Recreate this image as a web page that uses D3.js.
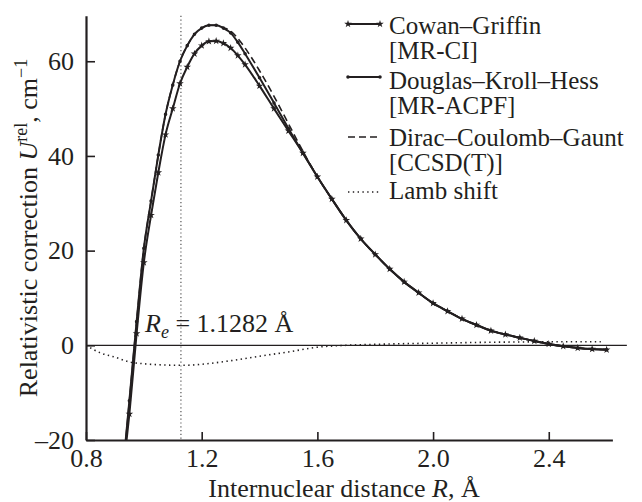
<!DOCTYPE html>
<html>
<head>
<meta charset="utf-8">
<script src="https://cdn.jsdelivr.net/npm/d3@7"></script>
<style>
  body { margin: 0; background: #fff; }
  svg text { font-family: "Liberation Serif", "Times New Roman", serif; }
  .axis text { font-size: 26px; fill: #231f20; font-family: "Liberation Serif", "Times New Roman", serif; }
  .axis line, .axis path { stroke: #231f20; }
</style>
</head>
<body>
<div id="chart"></div>
<script>
// internuclear distance grid, angstrom
const rGrid = [0.935, 0.95, 0.975, 1.0, 1.025, 1.05, 1.075, 1.1, 1.125, 1.15, 1.175, 1.2, 1.225,
    1.25, 1.275, 1.3, 1.325, 1.35, 1.4, 1.45, 1.5, 1.55, 1.6, 1.65, 1.7, 1.75, 1.8, 1.85, 1.9,
    1.95, 2.0, 2.05, 2.1, 2.15, 2.2, 2.25, 2.3, 2.35, 2.4, 2.45, 2.5, 2.55, 2.6];

const cowanGriffin = [-23, -14.5, 2.5, 17.5, 27.5, 36.5, 44.5, 50.0, 55.3, 58.8, 61.6, 63.3, 64.2,
    64.3, 63.8, 62.8, 61.2, 59.3, 54.8, 50.0, 45.3, 40.6, 35.6, 30.9, 26.4, 22.5, 19.2, 16.1, 13.4,
    11.1, 8.9, 7.2, 5.6, 4.3, 3.1, 2.3, 1.6, 0.9, 0.3, -0.2, -0.55, -0.8, -0.95];

const douglasKrollHess = [-21.5, -11.7, 5.0, 20.5, 30.5, 40.2, 48.8, 55.0, 60.0, 63.3, 65.7, 67.0, 67.6,
    67.6, 67.0, 66.0, 64.0, 61.6, 56.5, 51.2, 45.8, 40.6, 35.6, 30.9, 26.4, 22.5, 19.2, 16.1, 13.4,
    11.1, 8.9, 7.2, 5.6, 4.3, 3.1, 2.3, 1.6, 0.9, 0.3, -0.2, -0.55, -0.8, -0.95];

const diracCoulombGaunt = [-21.5, -11.7, 5.0, 20.5, 30.5, 40.2, 48.8, 55.0, 60.0, 63.3, 65.7, 67.0, 67.6,
    67.6, 67.1, 66.4, 64.8, 62.8, 58.0, 52.6, 46.8, 41.0, 35.6, 30.9, 26.4, 22.5, 19.2, 16.1, 13.4,
    11.1, 8.9, 7.2, 5.6, 4.3, 3.1, 2.3, 1.6, 0.9, 0.3, -0.2, -0.55, -0.8, -0.95];

const lambR = [0.8, 0.85, 0.9, 0.95, 1.0, 1.05, 1.1, 1.15, 1.2, 1.3, 1.4, 1.5, 1.6, 1.7, 1.8, 1.9,
    2.0, 2.1, 2.2, 2.3, 2.4, 2.5, 2.58];
const lambShift = [0, -1.6, -2.5, -3.5, -3.9, -4.1, -4.2, -4.2, -4.0, -3.25, -2.3, -1.4, -0.4, 0.0,
    0.2, 0.35, 0.45, 0.55, 0.65, 0.7, 0.75, 0.75, 0.75];

const xTicks = [0.8, 1.2, 1.6, 2.0, 2.4];
const yTicks = [-20, 0, 20, 40, 60];
const rEquilibrium = 1.1282;

const legendItems = [
    {name: 'Cowan–Griffin', method: '[MR-CI]', style: 'cg'},
    {name: 'Douglas–Kroll–Hess', method: '[MR-ACPF]', style: 'dkh'},
    {name: 'Dirac–Coulomb–Gaunt', method: '[CCSD(T)]', style: 'dcg'},
    {name: 'Lamb shift', method: null, style: 'lamb'}
];

const ink = '#231f20';
const serif = '"Liberation Serif", "Times New Roman", serif';

let svg = d3.select('#chart').append('svg')
    .attr('width', 642)
    .attr('height', 502)
    .attr('font-family', serif);

let x = d3.scaleLinear().domain([0.8, 2.62]).range([86, 612.4]);
let y = d3.scaleLinear().domain([-20, 69.6]).range([440, 15.8]);

svg.append('clipPath').attr('id', 'plot-clip')
    .append('rect')
    .attr('x', x(0.8)).attr('y', y(69.6))
    .attr('width', x(2.62) - x(0.8)).attr('height', y(-20) - y(69.6));

// zero line
svg.append('line')
    .attr('x1', x(0.8)).attr('x2', x(2.67))
    .attr('y1', y(0)).attr('y2', y(0))
    .attr('stroke', ink).attr('stroke-width', 1.2);

// equilibrium distance marker
svg.append('line')
    .attr('x1', x(rEquilibrium)).attr('x2', x(rEquilibrium))
    .attr('y1', y(69.6)).attr('y2', y(-20))
    .attr('stroke', '#555').attr('stroke-width', 1.2)
    .attr('stroke-dasharray', '1.2,2.6');

let plot = svg.append('g').attr('clip-path', 'url(#plot-clip)');

let line = d3.line()
    .x(function(d) { return x(d[0]); })
    .y(function(d) { return y(d[1]); })
    .curve(d3.curveMonotoneX);

let cgData = rGrid.map(function(r, i) { return [r, cowanGriffin[i]]; });
let dkhData = rGrid.map(function(r, i) { return [r, douglasKrollHess[i]]; });
let dcgData = rGrid.map(function(r, i) { return [r, diracCoulombGaunt[i]]; });
let lambData = lambR.map(function(r, i) { return [r, lambShift[i]]; });

const styles = {
    cg: {width: 2, dash: null},
    dkh: {width: 2, dash: null},
    dcg: {width: 1.6, dash: '7,4'},
    lamb: {width: 1.6, dash: '1.4,3.4'}
};

plot.append('path').datum(lambData)
    .attr('fill', 'none').attr('stroke', ink)
    .attr('stroke-width', styles.lamb.width)
    .attr('stroke-dasharray', styles.lamb.dash)
    .attr('d', line);

plot.append('path').datum(dcgData)
    .attr('fill', 'none').attr('stroke', ink)
    .attr('stroke-width', styles.dcg.width)
    .attr('stroke-dasharray', styles.dcg.dash)
    .attr('d', line);

plot.append('path').datum(dkhData)
    .attr('fill', 'none').attr('stroke', ink)
    .attr('stroke-width', styles.dkh.width)
    .attr('d', line);

plot.append('path').datum(cgData)
    .attr('fill', 'none').attr('stroke', ink)
    .attr('stroke-width', styles.cg.width)
    .attr('d', line);

let star = d3.symbol().type(d3.symbolStar).size(18);
let dot = d3.symbol().type(d3.symbolCircle).size(10);

plot.selectAll('.dkh-mark').data(dkhData).enter().append('path')
    .attr('class', 'dkh-mark')
    .attr('transform', function(d) { return 'translate(' + x(d[0]) + ',' + y(d[1]) + ')'; })
    .attr('d', dot).attr('fill', ink);

plot.selectAll('.cg-mark').data(cgData).enter().append('path')
    .attr('class', 'cg-mark')
    .attr('transform', function(d) { return 'translate(' + x(d[0]) + ',' + y(d[1]) + ')'; })
    .attr('d', star).attr('fill', ink);

// axes
let yAxis = d3.axisLeft(y)
    .tickValues(yTicks)
    .tickSizeInner(-9).tickSizeOuter(0).tickPadding(12)
    .tickFormat(function(d) { return d < 0 ? '–' + Math.abs(d) : d; });

let xAxis = d3.axisBottom(x)
    .tickValues(xTicks)
    .tickSizeInner(-8).tickSizeOuter(0).tickPadding(9)
    .tickFormat(d3.format('.1f'));

let gy = svg.append('g').attr('class', 'axis')
    .attr('transform', 'translate(' + x(0.8) + ',0)')
    .call(yAxis)
    .attr('font-family', serif).attr('font-size', 26);
gy.select('.domain').attr('stroke-width', 2.2);
gy.selectAll('.tick line').attr('stroke-width', 1.6);

let gx = svg.append('g').attr('class', 'axis')
    .attr('transform', 'translate(0,' + y(-20) + ')')
    .call(xAxis)
    .attr('font-family', serif).attr('font-size', 26);
gx.select('.domain').attr('stroke-width', 2.2);
gx.selectAll('.tick line').attr('stroke-width', 1.6);

// axis titles
let xTitle = svg.append('text')
    .attr('x', 344).attr('y', 497)
    .attr('text-anchor', 'middle')
    .attr('font-size', 26).attr('fill', ink);
xTitle.append('tspan').text('Internuclear distance ');
xTitle.append('tspan').attr('font-style', 'italic').text('R');
xTitle.append('tspan').text(', Å');

let yTitle = svg.append('text')
    .attr('transform', 'translate(37,228) rotate(-90)')
    .attr('text-anchor', 'middle')
    .attr('font-size', 26).attr('fill', ink);
yTitle.append('tspan').text('Relativistic correction ');
yTitle.append('tspan').attr('font-style', 'italic').text('U');
yTitle.append('tspan').attr('font-size', 18).attr('dy', -10).text('rel');
yTitle.append('tspan').attr('dy', 10).text(', cm');
yTitle.append('tspan').attr('font-size', 18).attr('dy', -10).text('−1');

// Re annotation
let note = svg.append('text')
    .attr('x', 145).attr('y', 332)
    .attr('font-size', 26).attr('fill', ink);
note.append('tspan').attr('font-style', 'italic').text('R');
note.append('tspan').attr('font-style', 'italic').attr('font-size', 18).attr('dy', 6).text('e');
note.append('tspan').attr('dy', -6).text(' = 1.1282 Å');

// legend
const legendLineY = [24, 77, 137, 192];
const legendTextY = [34, 89, 146, 199];

let legend = svg.append('g');
legendItems.forEach(function(item, i) {
    let ly = legendLineY[i];
    let st = styles[item.style];
    legend.append('line')
        .attr('x1', 348).attr('x2', 380)
        .attr('y1', ly).attr('y2', ly)
        .attr('stroke', ink)
        .attr('stroke-width', st.width)
        .attr('stroke-dasharray', st.dash);
    if (item.style === 'cg' || item.style === 'dkh') {
        [348, 380].forEach(function(mx) {
            legend.append('path')
                .attr('transform', 'translate(' + mx + ',' + ly + ')')
                .attr('d', item.style === 'cg' ? star : dot)
                .attr('fill', ink);
        });
    }
    legend.append('text')
        .attr('x', 389).attr('y', legendTextY[i])
        .attr('font-size', 25).attr('fill', ink)
        .text(item.name);
    if (item.method) {
        legend.append('text')
            .attr('x', 389).attr('y', legendTextY[i] + 25)
            .attr('font-size', 25).attr('fill', ink)
            .text(item.method);
    }
});
</script>
</body>
</html>
